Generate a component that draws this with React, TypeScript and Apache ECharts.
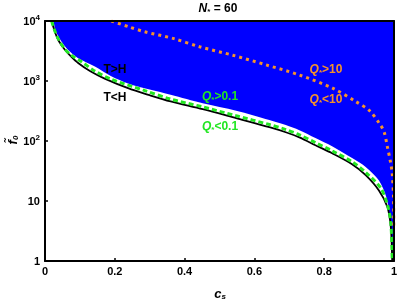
import React, { useEffect, useRef } from "react";
import * as echarts from "echarts";

// c_s values and f0 values
const blackC = [0.019, 0.03, 0.04, 0.057, 0.075, 0.095, 0.13, 0.171, 0.238, 0.3, 0.36, 0.452, 0.548, 0.643, 0.69, 0.729, 0.775, 0.824, 0.88, 0.919, 0.957, 0.981, 0.991, 0.995];
const blackF = [10000, 6200, 4600, 3311, 2550, 1995, 1450, 1096, 759, 580, 457, 339, 240, 170, 140, 115, 85, 62, 41, 27, 15, 8, 3.7, 1];

const greenC = [0.019, 0.03, 0.04, 0.057, 0.075, 0.105, 0.14, 0.19, 0.286, 0.36, 0.452, 0.548, 0.643, 0.69, 0.729, 0.775, 0.824, 0.88, 0.919, 0.962, 0.981, 0.991, 0.995];
const greenF = [10000, 6400, 4800, 3400, 2700, 2090, 1500, 1070, 692, 500, 370, 263, 188, 155, 127, 94, 68, 45, 30, 16.5, 8.8, 4.4, 1];

const edgeC = [0, 0.021, 0.03, 0.04, 0.057, 0.075, 0.095, 0.143, 0.19, 0.238, 0.3, 0.36, 0.452, 0.548, 0.643, 0.69, 0.729, 0.775, 0.824, 0.88, 0.919, 0.957, 0.978, 0.988, 0.995, 0.997];
const edgeF = [10000, 10000, 7000, 5300, 3800, 2950, 2400, 1740, 1200, 912, 720, 590, 427, 320, 224, 184, 151, 112, 81, 52, 37, 22, 11.7, 5.5, 1.74, 1];

const orangeC = [0.19, 0.24, 0.286, 0.367, 0.443, 0.538, 0.633, 0.729, 0.824, 0.89, 0.93, 0.96, 0.972, 0.981, 0.99, 0.995, 0.999, 0.9995];
const orangeF = [10000, 8000, 6600, 5130, 3720, 2690, 1860, 1260, 760, 457, 320, 190, 141, 81, 45, 29, 10.5, 3.7];

const xTicks = [0, 0.2, 0.4, 0.6, 0.8, 1];
const yTicks = [1, 10, 100, 1000, 10000];

const FONT = "Liberation Sans";
const BLUE = "#0000FF";
const GREEN = "#22E622";
const ORANGE = "#F5922A";

const zip = (a: number[], b: number[]) => a.map((v, i) => [v, b[i]]);

export default function App() {
  const ref = useRef<HTMLDivElement>(null);
  useEffect(() => {
    if (!ref.current) return;
    const chart = echarts.init(ref.current, null, { renderer: "svg" });
    const yLabel = (v: number) => {
      if (v === 1) return "1";
      if (v === 10) return "10";
      return "10{sup|" + Math.round(Math.log10(v)) + "}";
    };
    const axisCommon = {
      axisLine: { show: true, onZero: false, lineStyle: { color: "#000", width: 2 } },
      splitLine: { show: false },
      z: 10,
    };
    const qLabel = (color: string, text: string, x: number, y: number) => ({
      type: "text",
      x,
      y,
      z: 20,
      style: {
        text: "{q|Q}{s|*}{t|" + text + "}",
        fill: color,
        align: "center",
        verticalAlign: "middle",
        rich: {
          q: { fontFamily: FONT, fontWeight: "bold", fontStyle: "italic", fontSize: 12, fill: color },
          s: { fontFamily: FONT, fontWeight: "bold", fontSize: 8, fill: color, padding: [6, 0, 0, 0] },
          t: { fontFamily: FONT, fontWeight: "bold", fontSize: 12, fill: color },
        },
      },
    });
    chart.setOption({
      animation: false,
      grid: { left: 45, right: 5, top: 21, bottom: 39, show: true, backgroundColor: BLUE, borderWidth: 0 },
      xAxis: [
        {
          ...axisCommon,
          type: "value",
          min: 0,
          max: 1,
          interval: 0.2,
          position: "bottom",
          axisTick: { show: true, inside: true, length: 3, lineStyle: { color: "#000", width: 1.5 } },
          axisLabel: {
            fontFamily: FONT,
            fontWeight: "bold",
            fontSize: 11,
            color: "#000",
            margin: 4,
            formatter: (v: number) => (xTicks.includes(v) ? String(v) : ""),
          },
        },
        {
          ...axisCommon,
          type: "value",
          min: 0,
          max: 1,
          position: "top",
          axisTick: { show: false },
          axisLabel: { show: false },
        },
      ],
      yAxis: [
        {
          ...axisCommon,
          type: "log",
          logBase: 10,
          min: 1,
          max: 10000,
          position: "left",
          axisTick: { show: true, inside: true, length: 3, lineStyle: { color: "#000", width: 1.5 } },
          axisLabel: {
            fontFamily: FONT,
            fontWeight: "bold",
            fontSize: 11,
            color: "#000",
            margin: 5,
            formatter: (v: number) => (yTicks.includes(v) ? yLabel(v) : ""),
            rich: {
              sup: { fontFamily: FONT, fontWeight: "bold", fontSize: 8, color: "#000", padding: [0, 0, 7, 0] },
            },
          },
        },
        {
          ...axisCommon,
          type: "log",
          logBase: 10,
          min: 1,
          max: 10000,
          position: "right",
          axisTick: { show: false },
          axisLabel: { show: false },
        },
      ],
      series: [
        {
          type: "line",
          data: zip(edgeC, edgeF),
          showSymbol: false,
          symbol: "none",
          smooth: 0.3,
          lineStyle: { width: 0, opacity: 0 },
          areaStyle: { color: "#FFFFFF", opacity: 1, origin: "start" },
          z: 2,
        },
        {
          type: "line",
          data: zip(blackC, blackF),
          symbol: "none",
          smooth: 0.3,
          lineStyle: { color: "#000", width: 1.8 },
          z: 3,
        },
        {
          type: "line",
          data: zip(greenC, greenF),
          symbol: "none",
          smooth: 0.3,
          lineStyle: { color: GREEN, width: 3, type: [5, 3] },
          z: 4,
        },
        {
          type: "line",
          data: zip(orangeC, orangeF),
          symbol: "none",
          smooth: 0.3,
          lineStyle: { color: ORANGE, width: 3, type: [3, 4] },
          z: 4,
        },
      ],
      graphic: [
        {
          type: "text",
          x: 218,
          y: 8,
          style: {
            text: "{n|N}{s|*}{t| = 60}",
            align: "center",
            verticalAlign: "middle",
            rich: {
              n: { fontFamily: FONT, fontWeight: "bold", fontStyle: "italic", fontSize: 12, fill: "#000" },
              s: { fontFamily: FONT, fontWeight: "bold", fontSize: 8, fill: "#000", padding: [6, 0, 0, 0] },
              t: { fontFamily: FONT, fontWeight: "bold", fontSize: 12, fill: "#000" },
            },
          },
        },
        {
          type: "text",
          x: 220,
          y: 293,
          style: {
            text: "{c|c}{s|s}",
            align: "center",
            verticalAlign: "middle",
            rich: {
              c: { fontFamily: FONT, fontWeight: "bold", fontStyle: "italic", fontSize: 13, fill: "#000" },
              s: { fontFamily: FONT, fontWeight: "bold", fontStyle: "italic", fontSize: 8, fill: "#000", padding: [6, 0, 0, 0] },
            },
          },
        },
        {
          type: "text",
          x: 12,
          y: 140,
          rotation: Math.PI / 2,
          style: {
            text: "{f|f\u0303}{s|0}",
            align: "center",
            verticalAlign: "middle",
            rich: {
              f: { fontFamily: FONT, fontWeight: "bold", fontStyle: "italic", fontSize: 13, fill: "#000" },
              s: { fontFamily: FONT, fontWeight: "bold", fontStyle: "italic", fontSize: 8, fill: "#000", padding: [6, 0, 0, 0] },
            },
          },
        },
        {
          type: "text",
          x: 115,
          y: 69,
          z: 20,
          style: { text: "T>H", fontFamily: FONT, fontWeight: "bold", fontSize: 12, fill: "#000", align: "center", verticalAlign: "middle" },
        },
        {
          type: "text",
          x: 115,
          y: 97,
          z: 20,
          style: { text: "T<H", fontFamily: FONT, fontWeight: "bold", fontSize: 12, fill: "#000", align: "center", verticalAlign: "middle" },
        },
        qLabel(GREEN, ">0.1", 220, 96),
        qLabel(GREEN, "<0.1", 220, 126),
        qLabel(ORANGE, ">10", 326, 69),
        qLabel(ORANGE, "<10", 326, 99),
      ],
    });
    return () => chart.dispose();
  }, []);
  return <div ref={ref} style={{ position: "fixed", left: 0, top: 0, width: 400, height: 300 }} />;
}
